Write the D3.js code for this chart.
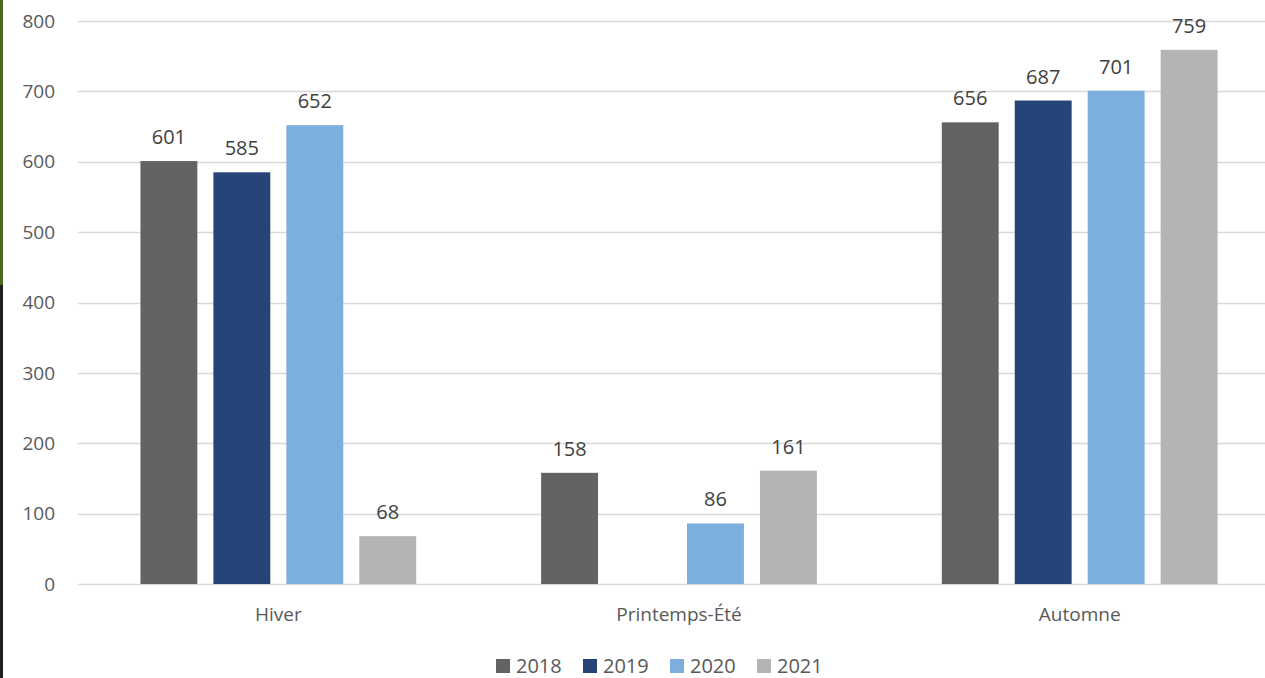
<!DOCTYPE html>
<html>
<head>
<meta charset="utf-8">
<script src="https://cdn.jsdelivr.net/npm/d3@7"></script>
<style>
  body { margin: 0; background: #fff; }
  svg { display: block; font-family: "Open Sans", "Liberation Sans", sans-serif; }
</style>
</head>
<body>
<script>
const width = 1265;
const height = 678;
const margin = {top: 21, right: -15, bottom: 94, left: 78};

const categories = ['Hiver', 'Printemps-Été', 'Automne'];
const years = ['2018', '2019', '2020', '2021'];
const colors = ['#636363', '#264478', '#7cafdd', '#b4b4b4'];
const yTicks = [0, 100, 200, 300, 400, 500, 600, 700, 800];

const v2018 = [601, 158, 656];
const v2019 = [585, null, 687];
const v2020 = [652, 86, 701];
const v2021 = [68, 161, 759];
const series = [v2018, v2019, v2020, v2021];

const svg = d3.select('body').append('svg')
  .attr('width', width)
  .attr('height', height);

// strip of photo on the far left
svg.append('rect').attr('x', 0).attr('y', 0).attr('width', 3).attr('height', 285).attr('fill', '#4a6b1f');
svg.append('rect').attr('x', 0).attr('y', 285).attr('width', 3).attr('height', height - 285).attr('fill', '#1e1e1e');

const x0 = d3.scaleBand()
  .domain(categories)
  .range([margin.left, width - margin.right]);

const x1 = d3.scaleBand()
  .domain(years)
  .range([0, x0.bandwidth()])
  .paddingInner(0.22)
  .paddingOuter(0.856);

const y = d3.scaleLinear()
  .domain([0, 800])
  .range([height - margin.bottom, margin.top]);

// gridlines + tick labels
const grid = svg.append('g');
grid.selectAll('line')
  .data(yTicks)
  .join('line')
  .attr('x1', margin.left)
  .attr('x2', width)
  .attr('y1', d => Math.round(y(d)) + 0.5)
  .attr('y2', d => Math.round(y(d)) + 0.5)
  .attr('stroke', '#d9d9d9')
  .attr('stroke-width', 1.5);

grid.selectAll('text')
  .data(yTicks)
  .join('text')
  .attr('x', 55)
  .attr('y', d => y(d))
  .attr('dy', '0.35em')
  .attr('text-anchor', 'end')
  .attr('fill', '#595959')
  .attr('font-size', 19)
  .text(d => d);

// bars
const data = [];
categories.forEach((c, i) => {
  years.forEach((yr, j) => {
    const v = series[j][i];
    if (v != null) data.push({cat: c, year: yr, value: v, color: colors[j]});
  });
});

svg.append('g')
  .selectAll('rect')
  .data(data)
  .join('rect')
  .attr('x', d => x0(d.cat) + x1(d.year))
  .attr('y', d => y(d.value))
  .attr('width', x1.bandwidth())
  .attr('height', d => y(0) - y(d.value))
  .attr('fill', d => d.color);

svg.append('g')
  .selectAll('text')
  .data(data)
  .join('text')
  .attr('x', d => x0(d.cat) + x1(d.year) + x1.bandwidth() / 2)
  .attr('y', d => y(d.value) - 17)
  .attr('text-anchor', 'middle')
  .attr('fill', '#404040')
  .attr('font-size', 20)
  .text(d => d.value);

// category labels
svg.append('g')
  .selectAll('text')
  .data(categories)
  .join('text')
  .attr('x', d => x0(d) + x0.bandwidth() / 2)
  .attr('y', y(0) + 37)
  .attr('text-anchor', 'middle')
  .attr('fill', '#595959')
  .attr('font-size', 19)
  .text(d => d);

// legend
const legend = svg.append('g').attr('transform', 'translate(496,665)');
const item = legend.selectAll('g')
  .data(years)
  .join('g')
  .attr('transform', (d, i) => `translate(${i * 87},0)`);
item.append('rect')
  .attr('x', 0).attr('y', -6)
  .attr('width', 14).attr('height', 14)
  .attr('fill', (d, i) => colors[i]);
item.append('text')
  .attr('x', 20)
  .attr('y', 1)
  .attr('dy', '0.35em')
  .attr('fill', '#595959')
  .attr('font-size', 20)
  .text(d => d);
</script>
</body>
</html>
